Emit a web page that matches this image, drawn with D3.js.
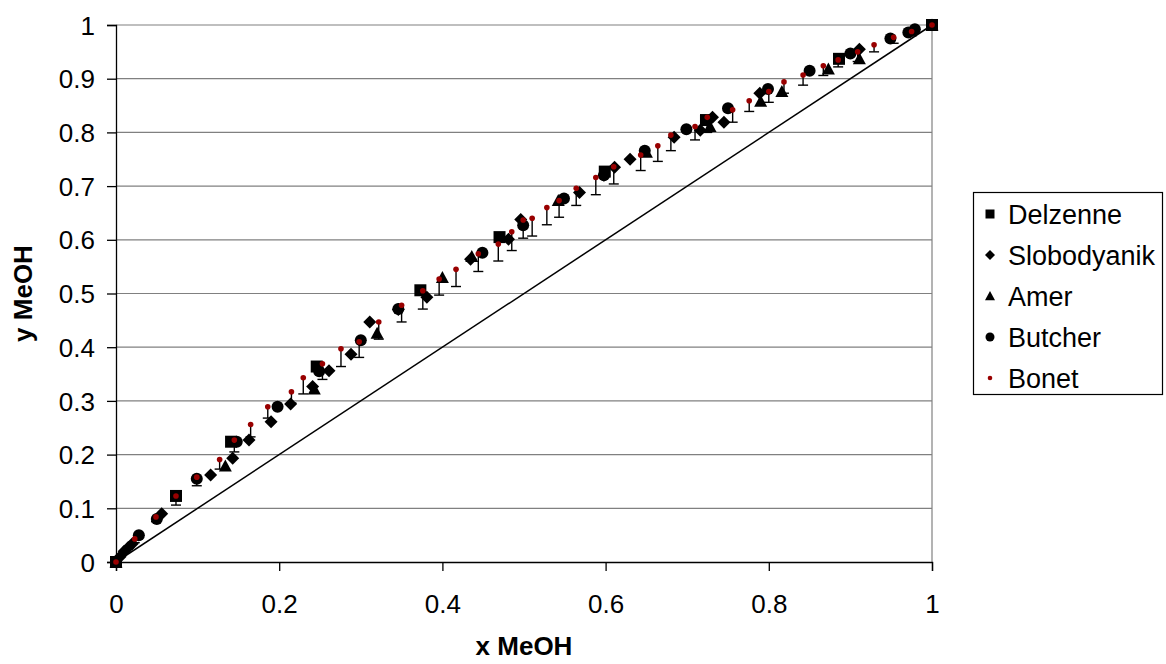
<!DOCTYPE html>
<html>
<head>
<meta charset="utf-8">
<script src="https://cdn.jsdelivr.net/npm/d3@7"></script>
<style>
  body { margin: 0; background: #fff; }
  svg { font-family: "Liberation Sans", Arial, sans-serif; }
</style>
</head>
<body>
<svg id="chart" width="1166" height="664"></svg>
<script>
// Datos (x MeOH, y MeOH)
const delzenne = [[0, 0], [0.0735, 0.123], [0.141, 0.224], [0.246, 0.364], [0.373, 0.506],
  [0.47, 0.605], [0.599, 0.727], [0.723, 0.823], [0.886, 0.937], [1, 1]];

const slobodyanik = [[0.005, 0.01], [0.01, 0.02], [0.015, 0.027], [0.02, 0.034], [0.056, 0.09],
  [0.116, 0.162], [0.143, 0.193], [0.163, 0.227], [0.19, 0.261], [0.214, 0.294],
  [0.241, 0.327], [0.261, 0.356], [0.288, 0.387], [0.311, 0.447], [0.346, 0.47],
  [0.381, 0.493], [0.4345, 0.564], [0.481, 0.601], [0.496, 0.638], [0.568, 0.688],
  [0.598, 0.72], [0.611, 0.735], [0.63, 0.75], [0.684, 0.791], [0.716, 0.804],
  [0.731, 0.828], [0.745, 0.819], [0.789, 0.873], [0.911, 0.955]];

const amer = [[0, 0], [0.134, 0.179], [0.243, 0.322], [0.32, 0.426], [0.4, 0.53],
  [0.436, 0.569], [0.542, 0.673], [0.65, 0.763], [0.728, 0.811], [0.79, 0.858],
  [0.816, 0.876], [0.873, 0.918], [0.911, 0.937], [1, 1]];

const butcher = [[0, 0], [0.028, 0.05], [0.05, 0.08], [0.099, 0.155], [0.148, 0.224],
  [0.198, 0.289], [0.249, 0.355], [0.3, 0.413], [0.346, 0.471], [0.449, 0.576],
  [0.499, 0.627], [0.549, 0.677], [0.598, 0.72], [0.648, 0.766], [0.699, 0.806],
  [0.75, 0.845], [0.799, 0.881], [0.85, 0.915], [0.9, 0.947], [0.949, 0.975],
  [0.971, 0.986], [0.979, 0.992], [1, 1]];

// Bonet: x, y, limite inferior de la barra de error
const bonet = [[0, 0, 0], [0.023, 0.043, 0.036], [0.049, 0.084, 0.075], [0.0735, 0.123, 0.106],
  [0.099, 0.158, 0.142], [0.127, 0.191, 0.173], [0.145, 0.227, 0.205], [0.165, 0.256, 0.233],
  [0.186, 0.289, 0.268], [0.215, 0.317, 0.296], [0.2295, 0.343, 0.313], [0.253, 0.369, 0.34],
  [0.2757, 0.397, 0.364], [0.298, 0.41, 0.381], [0.322, 0.447, 0.415], [0.35, 0.478, 0.447],
  [0.376, 0.505, 0.471], [0.396, 0.527, 0.497], [0.4167, 0.545, 0.513], [0.444, 0.574, 0.541],
  [0.4685, 0.592, 0.5605], [0.485, 0.615, 0.58], [0.499, 0.637, 0.603], [0.51, 0.64, 0.607],
  [0.528, 0.66, 0.628], [0.543, 0.673, 0.642], [0.564, 0.696, 0.664], [0.588, 0.716, 0.684],
  [0.61, 0.736, 0.704], [0.643, 0.758, 0.729], [0.664, 0.775, 0.746], [0.68, 0.795, 0.766],
  [0.7096, 0.811, 0.786], [0.7246, 0.828, 0.8], [0.7557, 0.842, 0.819], [0.776, 0.859, 0.839],
  [0.8, 0.876, 0.856], [0.8186, 0.894, 0.873], [0.842, 0.907, 0.888], [0.8668, 0.924, 0.906],
  [0.885, 0.935, 0.922], [0.9089, 0.95, 0.932], [0.929, 0.963, 0.95], [0.953, 0.977, 0.966],
  [0.975, 0.988, 0.98], [1, 1, 1]];

const diagonal = [[0, 0], [1, 1]];
const yTicks = [0, 0.1, 0.2, 0.3, 0.4, 0.5, 0.6, 0.7, 0.8, 0.9, 1];
const xTicks = [0, 0.2, 0.4, 0.6, 0.8, 1];
const seriesNames = ["Delzenne", "Slobodyanik", "Amer", "Butcher", "Bonet"];

const svg = d3.select("#chart");
const margin = { top: 25, right: 234, bottom: 102, left: 116 };
const width = 1166, height = 664;

const xScale = d3.scaleLinear().domain([0, 1]).range([margin.left, width - margin.right]);
const yScale = d3.scaleLinear().domain([0, 1]).range([height - margin.bottom, margin.top]);

// Formas de los marcadores (estilo Excel)
function squarePath(s) { return `M${-s},${-s}H${s}V${s}H${-s}Z`; }
function diamondPath(s) { return `M0,${-s}L${s},0L0,${s}L${-s},0Z`; }
function trianglePath(s) { return `M0,${-s}L${s},${s * 0.85}L${-s},${s * 0.85}Z`; }
function circlePath(s) { return `M${s},0A${s},${s} 0 1,1 ${-s},0A${s},${s} 0 1,1 ${s},0Z`; }

// Lineas de rejilla horizontales
svg.append("g")
  .selectAll("line")
  .data(yTicks.filter(d => d > 0))
  .enter()
  .append("line")
  .attr("x1", xScale(0))
  .attr("x2", xScale(1))
  .attr("y1", d => yScale(d))
  .attr("y2", d => yScale(d))
  .attr("stroke", "#808080")
  .attr("stroke-width", 1.2);

// Borde derecho del area de trazado
svg.append("line")
  .attr("x1", xScale(1)).attr("x2", xScale(1))
  .attr("y1", yScale(0)).attr("y2", yScale(1))
  .attr("stroke", "#808080")
  .attr("stroke-width", 1.2);

// Ejes
const xAxis = svg.append("g")
  .attr("transform", `translate(0, ${yScale(0)})`)
  .call(d3.axisBottom(xScale).tickValues(xTicks).tickSize(9).tickPadding(24).tickFormat(d3.format("")));
const yAxis = svg.append("g")
  .attr("transform", `translate(${xScale(0)}, 0)`)
  .call(d3.axisLeft(yScale).tickValues(yTicks).tickSize(9).tickPadding(12).tickFormat(d3.format("")));

[xAxis, yAxis].forEach(ax => {
  ax.select(".domain").attr("stroke", "#000").attr("stroke-width", 1.3);
  ax.selectAll(".tick line").attr("stroke", "#000").attr("stroke-width", 1.3);
  ax.selectAll("text")
    .attr("font-family", "Liberation Sans, Arial, sans-serif")
    .attr("font-size", 26)
    .attr("fill", "#000");
});
yAxis.selectAll("text").attr("dy", "0.35em");

// Diagonal y = x
svg.append("path")
  .datum(diagonal)
  .attr("d", d3.line().x(d => xScale(d[0])).y(d => yScale(d[1])))
  .attr("fill", "none")
  .attr("stroke", "#000")
  .attr("stroke-width", 1.5);

// Series
function drawSeries(data, shape, size, color) {
  return svg.append("g")
    .selectAll("path")
    .data(data)
    .enter()
    .append("path")
    .attr("transform", d => `translate(${xScale(d[0])}, ${yScale(d[1])})`)
    .attr("d", shape(size))
    .attr("fill", color);
}

drawSeries(delzenne, squarePath, 6, "#000");
drawSeries(slobodyanik, diamondPath, 6.5, "#000");
drawSeries(amer, trianglePath, 6.5, "#000");
drawSeries(butcher, circlePath, 6, "#000");

// Bonet: barras de error inferiores + punto rojo
const errG = svg.append("g").attr("stroke", "#000").attr("stroke-width", 1.4);
bonet.filter(d => d[1] - d[2] > 0).forEach(d => {
  errG.append("line")
    .attr("x1", xScale(d[0])).attr("x2", xScale(d[0]))
    .attr("y1", yScale(d[1])).attr("y2", yScale(d[2]));
  errG.append("line")
    .attr("x1", xScale(d[0]) - 5).attr("x2", xScale(d[0]) + 5)
    .attr("y1", yScale(d[2])).attr("y2", yScale(d[2]));
});
drawSeries(bonet, circlePath, 2.8, "#990000");

// Titulos de ejes
svg.append("text")
  .attr("x", (xScale(0) + xScale(1)) / 2)
  .attr("y", 655)
  .attr("text-anchor", "middle")
  .attr("font-size", 26)
  .attr("font-weight", "bold")
  .text("x MeOH");

svg.append("text")
  .attr("transform", `translate(32, ${(yScale(0) + yScale(1)) / 2}) rotate(-90)`)
  .attr("text-anchor", "middle")
  .attr("font-size", 26)
  .attr("font-weight", "bold")
  .text("y MeOH");

// Leyenda
const legend = svg.append("g");
legend.append("rect")
  .attr("x", 973.5).attr("y", 192.5)
  .attr("width", 189).attr("height", 202)
  .attr("fill", "#fff")
  .attr("stroke", "#000")
  .attr("stroke-width", 1.2);

const legendShapes = [squarePath(4.5), diamondPath(5), trianglePath(5), circlePath(4.5), circlePath(2.3)];
const legendColors = ["#000", "#000", "#000", "#000", "#990000"];
seriesNames.forEach((name, i) => {
  const cy = 214 + i * 41;
  legend.append("path")
    .attr("transform", `translate(990, ${cy})`)
    .attr("d", legendShapes[i])
    .attr("fill", legendColors[i]);
  legend.append("text")
    .attr("x", 1008)
    .attr("y", cy)
    .attr("dy", "0.36em")
    .attr("font-size", 27)
    .text(name);
});
</script>
</body>
</html>
